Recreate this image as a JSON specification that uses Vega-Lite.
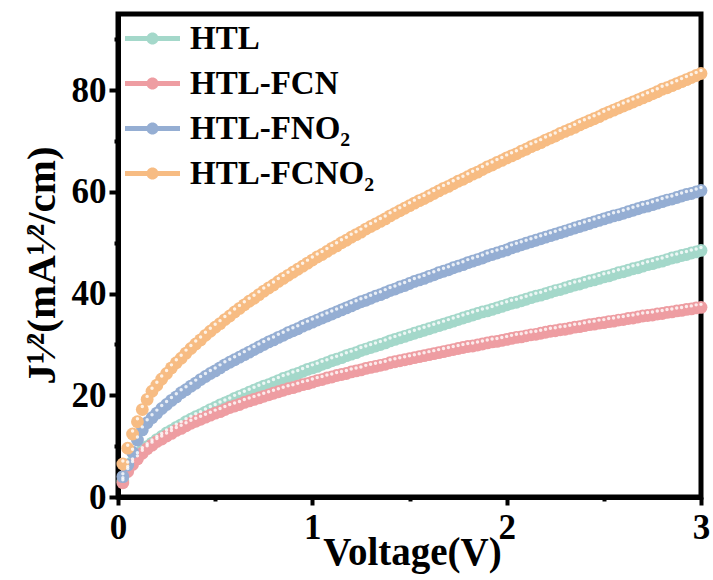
{
"$schema": "https://vega.github.io/schema/vega-lite/v6.json",
"width": 583, "height": 483,
"autosize": "none",
"padding": {"left": 118, "top": 14, "right": 12, "bottom": 83},
"background": "white",
"config": {"view": {"stroke": "black", "strokeWidth": 5}, "font": "Liberation Serif"},
"data": {"values": [
{"s":"HTL","v":0.025,"j":3.2},{"s":"HTL","v":0.05,"j":5.4},{"s":"HTL","v":0.075,"j":6.9},{"s":"HTL","v":0.1,"j":8.1},{"s":"HTL","v":0.125,"j":9.1},{"s":"HTL","v":0.15,"j":9.9},{"s":"HTL","v":0.175,"j":10.6},{"s":"HTL","v":0.2,"j":11.3},{"s":"HTL","v":0.225,"j":11.9},{"s":"HTL","v":0.25,"j":12.6},
{"s":"HTL","v":0.275,"j":13.1},{"s":"HTL","v":0.3,"j":13.7},{"s":"HTL","v":0.325,"j":14.2},{"s":"HTL","v":0.35,"j":14.8},{"s":"HTL","v":0.375,"j":15.3},{"s":"HTL","v":0.4,"j":15.8},{"s":"HTL","v":0.425,"j":16.2},{"s":"HTL","v":0.45,"j":16.7},{"s":"HTL","v":0.475,"j":17.2},{"s":"HTL","v":0.5,"j":17.6},
{"s":"HTL","v":0.525,"j":18.1},{"s":"HTL","v":0.55,"j":18.5},{"s":"HTL","v":0.575,"j":18.9},{"s":"HTL","v":0.6,"j":19.4},{"s":"HTL","v":0.625,"j":19.8},{"s":"HTL","v":0.65,"j":20.2},{"s":"HTL","v":0.675,"j":20.6},{"s":"HTL","v":0.7,"j":21.0},{"s":"HTL","v":0.725,"j":21.4},{"s":"HTL","v":0.75,"j":21.8},
{"s":"HTL","v":0.775,"j":22.1},{"s":"HTL","v":0.8,"j":22.5},{"s":"HTL","v":0.825,"j":22.9},{"s":"HTL","v":0.85,"j":23.3},{"s":"HTL","v":0.875,"j":23.6},{"s":"HTL","v":0.9,"j":24.0},{"s":"HTL","v":0.925,"j":24.3},{"s":"HTL","v":0.95,"j":24.7},{"s":"HTL","v":0.975,"j":25.1},{"s":"HTL","v":1.0,"j":25.4},
{"s":"HTL","v":1.025,"j":25.7},{"s":"HTL","v":1.05,"j":26.1},{"s":"HTL","v":1.075,"j":26.4},{"s":"HTL","v":1.1,"j":26.8},{"s":"HTL","v":1.125,"j":27.1},{"s":"HTL","v":1.15,"j":27.4},{"s":"HTL","v":1.175,"j":27.8},{"s":"HTL","v":1.2,"j":28.1},{"s":"HTL","v":1.225,"j":28.4},{"s":"HTL","v":1.25,"j":28.8},
{"s":"HTL","v":1.275,"j":29.1},{"s":"HTL","v":1.3,"j":29.4},{"s":"HTL","v":1.325,"j":29.7},{"s":"HTL","v":1.35,"j":30.0},{"s":"HTL","v":1.375,"j":30.3},{"s":"HTL","v":1.4,"j":30.7},{"s":"HTL","v":1.425,"j":31.0},{"s":"HTL","v":1.45,"j":31.3},{"s":"HTL","v":1.475,"j":31.6},{"s":"HTL","v":1.5,"j":31.9},
{"s":"HTL","v":1.525,"j":32.2},{"s":"HTL","v":1.55,"j":32.5},{"s":"HTL","v":1.575,"j":32.8},{"s":"HTL","v":1.6,"j":33.1},{"s":"HTL","v":1.625,"j":33.4},{"s":"HTL","v":1.65,"j":33.7},{"s":"HTL","v":1.675,"j":34.0},{"s":"HTL","v":1.7,"j":34.3},{"s":"HTL","v":1.725,"j":34.6},{"s":"HTL","v":1.75,"j":34.9},
{"s":"HTL","v":1.775,"j":35.2},{"s":"HTL","v":1.8,"j":35.5},{"s":"HTL","v":1.825,"j":35.8},{"s":"HTL","v":1.85,"j":36.1},{"s":"HTL","v":1.875,"j":36.4},{"s":"HTL","v":1.9,"j":36.6},{"s":"HTL","v":1.925,"j":36.9},{"s":"HTL","v":1.95,"j":37.2},{"s":"HTL","v":1.975,"j":37.5},{"s":"HTL","v":2.0,"j":37.8},
{"s":"HTL","v":2.025,"j":38.1},{"s":"HTL","v":2.05,"j":38.3},{"s":"HTL","v":2.075,"j":38.6},{"s":"HTL","v":2.1,"j":38.9},{"s":"HTL","v":2.125,"j":39.2},{"s":"HTL","v":2.15,"j":39.5},{"s":"HTL","v":2.175,"j":39.7},{"s":"HTL","v":2.2,"j":40.0},{"s":"HTL","v":2.225,"j":40.3},{"s":"HTL","v":2.25,"j":40.6},
{"s":"HTL","v":2.275,"j":40.8},{"s":"HTL","v":2.3,"j":41.1},{"s":"HTL","v":2.325,"j":41.4},{"s":"HTL","v":2.35,"j":41.7},{"s":"HTL","v":2.375,"j":41.9},{"s":"HTL","v":2.4,"j":42.2},{"s":"HTL","v":2.425,"j":42.5},{"s":"HTL","v":2.45,"j":42.7},{"s":"HTL","v":2.475,"j":43.0},{"s":"HTL","v":2.5,"j":43.3},
{"s":"HTL","v":2.525,"j":43.5},{"s":"HTL","v":2.55,"j":43.8},{"s":"HTL","v":2.575,"j":44.1},{"s":"HTL","v":2.6,"j":44.3},{"s":"HTL","v":2.625,"j":44.6},{"s":"HTL","v":2.65,"j":44.9},{"s":"HTL","v":2.675,"j":45.1},{"s":"HTL","v":2.7,"j":45.4},{"s":"HTL","v":2.725,"j":45.7},{"s":"HTL","v":2.75,"j":45.9},
{"s":"HTL","v":2.775,"j":46.2},{"s":"HTL","v":2.8,"j":46.4},{"s":"HTL","v":2.825,"j":46.7},{"s":"HTL","v":2.85,"j":47.0},{"s":"HTL","v":2.875,"j":47.2},{"s":"HTL","v":2.9,"j":47.5},{"s":"HTL","v":2.925,"j":47.7},{"s":"HTL","v":2.95,"j":48.0},{"s":"HTL","v":2.975,"j":48.2},{"s":"HTL","v":3.0,"j":48.5},
{"s":"HTL-FCN","v":0.025,"j":2.8},{"s":"HTL-FCN","v":0.05,"j":5.0},{"s":"HTL-FCN","v":0.075,"j":6.4},{"s":"HTL-FCN","v":0.1,"j":7.5},{"s":"HTL-FCN","v":0.125,"j":8.6},{"s":"HTL-FCN","v":0.15,"j":9.5},{"s":"HTL-FCN","v":0.175,"j":10.2},{"s":"HTL-FCN","v":0.2,"j":10.9},{"s":"HTL-FCN","v":0.225,"j":11.4},{"s":"HTL-FCN","v":0.25,"j":12.0},
{"s":"HTL-FCN","v":0.275,"j":12.5},{"s":"HTL-FCN","v":0.3,"j":13.1},{"s":"HTL-FCN","v":0.325,"j":13.5},{"s":"HTL-FCN","v":0.35,"j":14.0},{"s":"HTL-FCN","v":0.375,"j":14.5},{"s":"HTL-FCN","v":0.4,"j":14.9},{"s":"HTL-FCN","v":0.425,"j":15.3},{"s":"HTL-FCN","v":0.45,"j":15.7},{"s":"HTL-FCN","v":0.475,"j":16.1},{"s":"HTL-FCN","v":0.5,"j":16.5},
{"s":"HTL-FCN","v":0.525,"j":16.8},{"s":"HTL-FCN","v":0.55,"j":17.2},{"s":"HTL-FCN","v":0.575,"j":17.6},{"s":"HTL-FCN","v":0.6,"j":17.9},{"s":"HTL-FCN","v":0.625,"j":18.2},{"s":"HTL-FCN","v":0.65,"j":18.6},{"s":"HTL-FCN","v":0.675,"j":18.9},{"s":"HTL-FCN","v":0.7,"j":19.2},{"s":"HTL-FCN","v":0.725,"j":19.5},{"s":"HTL-FCN","v":0.75,"j":19.8},
{"s":"HTL-FCN","v":0.775,"j":20.1},{"s":"HTL-FCN","v":0.8,"j":20.4},{"s":"HTL-FCN","v":0.825,"j":20.7},{"s":"HTL-FCN","v":0.85,"j":21.0},{"s":"HTL-FCN","v":0.875,"j":21.3},{"s":"HTL-FCN","v":0.9,"j":21.5},{"s":"HTL-FCN","v":0.925,"j":21.8},{"s":"HTL-FCN","v":0.95,"j":22.1},{"s":"HTL-FCN","v":0.975,"j":22.3},{"s":"HTL-FCN","v":1.0,"j":22.6},
{"s":"HTL-FCN","v":1.025,"j":22.9},{"s":"HTL-FCN","v":1.05,"j":23.1},{"s":"HTL-FCN","v":1.075,"j":23.4},{"s":"HTL-FCN","v":1.1,"j":23.6},{"s":"HTL-FCN","v":1.125,"j":23.9},{"s":"HTL-FCN","v":1.15,"j":24.1},{"s":"HTL-FCN","v":1.175,"j":24.3},{"s":"HTL-FCN","v":1.2,"j":24.6},{"s":"HTL-FCN","v":1.225,"j":24.8},{"s":"HTL-FCN","v":1.25,"j":25.0},
{"s":"HTL-FCN","v":1.275,"j":25.3},{"s":"HTL-FCN","v":1.3,"j":25.5},{"s":"HTL-FCN","v":1.325,"j":25.7},{"s":"HTL-FCN","v":1.35,"j":25.9},{"s":"HTL-FCN","v":1.375,"j":26.1},{"s":"HTL-FCN","v":1.4,"j":26.4},{"s":"HTL-FCN","v":1.425,"j":26.6},{"s":"HTL-FCN","v":1.45,"j":26.8},{"s":"HTL-FCN","v":1.475,"j":27.0},{"s":"HTL-FCN","v":1.5,"j":27.2},
{"s":"HTL-FCN","v":1.525,"j":27.4},{"s":"HTL-FCN","v":1.55,"j":27.6},{"s":"HTL-FCN","v":1.575,"j":27.8},{"s":"HTL-FCN","v":1.6,"j":28.0},{"s":"HTL-FCN","v":1.625,"j":28.2},{"s":"HTL-FCN","v":1.65,"j":28.4},{"s":"HTL-FCN","v":1.675,"j":28.6},{"s":"HTL-FCN","v":1.7,"j":28.8},{"s":"HTL-FCN","v":1.725,"j":29.0},{"s":"HTL-FCN","v":1.75,"j":29.2},
{"s":"HTL-FCN","v":1.775,"j":29.4},{"s":"HTL-FCN","v":1.8,"j":29.6},{"s":"HTL-FCN","v":1.825,"j":29.7},{"s":"HTL-FCN","v":1.85,"j":29.9},{"s":"HTL-FCN","v":1.875,"j":30.1},{"s":"HTL-FCN","v":1.9,"j":30.3},{"s":"HTL-FCN","v":1.925,"j":30.5},{"s":"HTL-FCN","v":1.95,"j":30.6},{"s":"HTL-FCN","v":1.975,"j":30.8},{"s":"HTL-FCN","v":2.0,"j":31.0},
{"s":"HTL-FCN","v":2.025,"j":31.2},{"s":"HTL-FCN","v":2.05,"j":31.4},{"s":"HTL-FCN","v":2.075,"j":31.5},{"s":"HTL-FCN","v":2.1,"j":31.7},{"s":"HTL-FCN","v":2.125,"j":31.9},{"s":"HTL-FCN","v":2.15,"j":32.0},{"s":"HTL-FCN","v":2.175,"j":32.2},{"s":"HTL-FCN","v":2.2,"j":32.4},{"s":"HTL-FCN","v":2.225,"j":32.6},{"s":"HTL-FCN","v":2.25,"j":32.7},
{"s":"HTL-FCN","v":2.275,"j":32.9},{"s":"HTL-FCN","v":2.3,"j":33.0},{"s":"HTL-FCN","v":2.325,"j":33.2},{"s":"HTL-FCN","v":2.35,"j":33.4},{"s":"HTL-FCN","v":2.375,"j":33.5},{"s":"HTL-FCN","v":2.4,"j":33.7},{"s":"HTL-FCN","v":2.425,"j":33.9},{"s":"HTL-FCN","v":2.45,"j":34.0},{"s":"HTL-FCN","v":2.475,"j":34.2},{"s":"HTL-FCN","v":2.5,"j":34.3},
{"s":"HTL-FCN","v":2.525,"j":34.5},{"s":"HTL-FCN","v":2.55,"j":34.6},{"s":"HTL-FCN","v":2.575,"j":34.8},{"s":"HTL-FCN","v":2.6,"j":34.9},{"s":"HTL-FCN","v":2.625,"j":35.1},{"s":"HTL-FCN","v":2.65,"j":35.2},{"s":"HTL-FCN","v":2.675,"j":35.4},{"s":"HTL-FCN","v":2.7,"j":35.6},{"s":"HTL-FCN","v":2.725,"j":35.7},{"s":"HTL-FCN","v":2.75,"j":35.8},
{"s":"HTL-FCN","v":2.775,"j":36.0},{"s":"HTL-FCN","v":2.8,"j":36.1},{"s":"HTL-FCN","v":2.825,"j":36.3},{"s":"HTL-FCN","v":2.85,"j":36.4},{"s":"HTL-FCN","v":2.875,"j":36.6},{"s":"HTL-FCN","v":2.9,"j":36.7},{"s":"HTL-FCN","v":2.925,"j":36.9},{"s":"HTL-FCN","v":2.95,"j":37.0},{"s":"HTL-FCN","v":2.975,"j":37.2},{"s":"HTL-FCN","v":3.0,"j":37.3},
{"s":"HTL-FNO₂","v":0.025,"j":4.0},{"s":"HTL-FNO₂","v":0.05,"j":6.3},{"s":"HTL-FNO₂","v":0.075,"j":8.8},{"s":"HTL-FNO₂","v":0.1,"j":11.2},{"s":"HTL-FNO₂","v":0.125,"j":13.2},{"s":"HTL-FNO₂","v":0.15,"j":14.6},{"s":"HTL-FNO₂","v":0.175,"j":15.6},{"s":"HTL-FNO₂","v":0.2,"j":16.5},{"s":"HTL-FNO₂","v":0.225,"j":17.4},{"s":"HTL-FNO₂","v":0.25,"j":18.2},
{"s":"HTL-FNO₂","v":0.275,"j":19.0},{"s":"HTL-FNO₂","v":0.3,"j":19.7},{"s":"HTL-FNO₂","v":0.325,"j":20.5},{"s":"HTL-FNO₂","v":0.35,"j":21.1},{"s":"HTL-FNO₂","v":0.375,"j":21.8},{"s":"HTL-FNO₂","v":0.4,"j":22.4},{"s":"HTL-FNO₂","v":0.425,"j":23.1},{"s":"HTL-FNO₂","v":0.45,"j":23.7},{"s":"HTL-FNO₂","v":0.475,"j":24.3},{"s":"HTL-FNO₂","v":0.5,"j":24.8},
{"s":"HTL-FNO₂","v":0.525,"j":25.4},{"s":"HTL-FNO₂","v":0.55,"j":26.0},{"s":"HTL-FNO₂","v":0.575,"j":26.5},{"s":"HTL-FNO₂","v":0.6,"j":27.0},{"s":"HTL-FNO₂","v":0.625,"j":27.5},{"s":"HTL-FNO₂","v":0.65,"j":28.0},{"s":"HTL-FNO₂","v":0.675,"j":28.5},{"s":"HTL-FNO₂","v":0.7,"j":29.0},{"s":"HTL-FNO₂","v":0.725,"j":29.5},{"s":"HTL-FNO₂","v":0.75,"j":30.0},
{"s":"HTL-FNO₂","v":0.775,"j":30.5},{"s":"HTL-FNO₂","v":0.8,"j":30.9},{"s":"HTL-FNO₂","v":0.825,"j":31.4},{"s":"HTL-FNO₂","v":0.85,"j":31.8},{"s":"HTL-FNO₂","v":0.875,"j":32.3},{"s":"HTL-FNO₂","v":0.9,"j":32.7},{"s":"HTL-FNO₂","v":0.925,"j":33.1},{"s":"HTL-FNO₂","v":0.95,"j":33.6},{"s":"HTL-FNO₂","v":0.975,"j":34.0},{"s":"HTL-FNO₂","v":1.0,"j":34.4},
{"s":"HTL-FNO₂","v":1.025,"j":34.8},{"s":"HTL-FNO₂","v":1.05,"j":35.2},{"s":"HTL-FNO₂","v":1.075,"j":35.6},{"s":"HTL-FNO₂","v":1.1,"j":36.0},{"s":"HTL-FNO₂","v":1.125,"j":36.4},{"s":"HTL-FNO₂","v":1.15,"j":36.8},{"s":"HTL-FNO₂","v":1.175,"j":37.2},{"s":"HTL-FNO₂","v":1.2,"j":37.6},{"s":"HTL-FNO₂","v":1.225,"j":38.0},{"s":"HTL-FNO₂","v":1.25,"j":38.4},
{"s":"HTL-FNO₂","v":1.275,"j":38.7},{"s":"HTL-FNO₂","v":1.3,"j":39.1},{"s":"HTL-FNO₂","v":1.325,"j":39.5},{"s":"HTL-FNO₂","v":1.35,"j":39.8},{"s":"HTL-FNO₂","v":1.375,"j":40.2},{"s":"HTL-FNO₂","v":1.4,"j":40.6},{"s":"HTL-FNO₂","v":1.425,"j":40.9},{"s":"HTL-FNO₂","v":1.45,"j":41.3},{"s":"HTL-FNO₂","v":1.475,"j":41.6},{"s":"HTL-FNO₂","v":1.5,"j":42.0},
{"s":"HTL-FNO₂","v":1.525,"j":42.4},{"s":"HTL-FNO₂","v":1.55,"j":42.7},{"s":"HTL-FNO₂","v":1.575,"j":43.0},{"s":"HTL-FNO₂","v":1.6,"j":43.4},{"s":"HTL-FNO₂","v":1.625,"j":43.7},{"s":"HTL-FNO₂","v":1.65,"j":44.1},{"s":"HTL-FNO₂","v":1.675,"j":44.4},{"s":"HTL-FNO₂","v":1.7,"j":44.7},{"s":"HTL-FNO₂","v":1.725,"j":45.1},{"s":"HTL-FNO₂","v":1.75,"j":45.4},
{"s":"HTL-FNO₂","v":1.775,"j":45.7},{"s":"HTL-FNO₂","v":1.8,"j":46.1},{"s":"HTL-FNO₂","v":1.825,"j":46.4},{"s":"HTL-FNO₂","v":1.85,"j":46.7},{"s":"HTL-FNO₂","v":1.875,"j":47.0},{"s":"HTL-FNO₂","v":1.9,"j":47.4},{"s":"HTL-FNO₂","v":1.925,"j":47.7},{"s":"HTL-FNO₂","v":1.95,"j":48.0},{"s":"HTL-FNO₂","v":1.975,"j":48.3},{"s":"HTL-FNO₂","v":2.0,"j":48.6},
{"s":"HTL-FNO₂","v":2.025,"j":49.0},{"s":"HTL-FNO₂","v":2.05,"j":49.3},{"s":"HTL-FNO₂","v":2.075,"j":49.6},{"s":"HTL-FNO₂","v":2.1,"j":49.9},{"s":"HTL-FNO₂","v":2.125,"j":50.2},{"s":"HTL-FNO₂","v":2.15,"j":50.5},{"s":"HTL-FNO₂","v":2.175,"j":50.8},{"s":"HTL-FNO₂","v":2.2,"j":51.1},{"s":"HTL-FNO₂","v":2.225,"j":51.4},{"s":"HTL-FNO₂","v":2.25,"j":51.7},
{"s":"HTL-FNO₂","v":2.275,"j":52.0},{"s":"HTL-FNO₂","v":2.3,"j":52.3},{"s":"HTL-FNO₂","v":2.325,"j":52.6},{"s":"HTL-FNO₂","v":2.35,"j":52.9},{"s":"HTL-FNO₂","v":2.375,"j":53.2},{"s":"HTL-FNO₂","v":2.4,"j":53.5},{"s":"HTL-FNO₂","v":2.425,"j":53.8},{"s":"HTL-FNO₂","v":2.45,"j":54.1},{"s":"HTL-FNO₂","v":2.475,"j":54.4},{"s":"HTL-FNO₂","v":2.5,"j":54.7},
{"s":"HTL-FNO₂","v":2.525,"j":55.0},{"s":"HTL-FNO₂","v":2.55,"j":55.3},{"s":"HTL-FNO₂","v":2.575,"j":55.5},{"s":"HTL-FNO₂","v":2.6,"j":55.8},{"s":"HTL-FNO₂","v":2.625,"j":56.1},{"s":"HTL-FNO₂","v":2.65,"j":56.4},{"s":"HTL-FNO₂","v":2.675,"j":56.7},{"s":"HTL-FNO₂","v":2.7,"j":57.0},{"s":"HTL-FNO₂","v":2.725,"j":57.2},{"s":"HTL-FNO₂","v":2.75,"j":57.5},
{"s":"HTL-FNO₂","v":2.775,"j":57.8},{"s":"HTL-FNO₂","v":2.8,"j":58.1},{"s":"HTL-FNO₂","v":2.825,"j":58.4},{"s":"HTL-FNO₂","v":2.85,"j":58.6},{"s":"HTL-FNO₂","v":2.875,"j":58.9},{"s":"HTL-FNO₂","v":2.9,"j":59.2},{"s":"HTL-FNO₂","v":2.925,"j":59.5},{"s":"HTL-FNO₂","v":2.95,"j":59.7},{"s":"HTL-FNO₂","v":2.975,"j":60.0},{"s":"HTL-FNO₂","v":3.0,"j":60.3},
{"s":"HTL-FCNO₂","v":0.025,"j":6.5},{"s":"HTL-FCNO₂","v":0.05,"j":9.6},{"s":"HTL-FCNO₂","v":0.075,"j":12.4},{"s":"HTL-FCNO₂","v":0.1,"j":14.8},{"s":"HTL-FCNO₂","v":0.125,"j":17.2},{"s":"HTL-FCNO₂","v":0.15,"j":19.2},{"s":"HTL-FCNO₂","v":0.175,"j":20.8},{"s":"HTL-FCNO₂","v":0.2,"j":22.0},{"s":"HTL-FCNO₂","v":0.225,"j":23.2},{"s":"HTL-FCNO₂","v":0.25,"j":24.3},
{"s":"HTL-FCNO₂","v":0.275,"j":25.4},{"s":"HTL-FCNO₂","v":0.3,"j":26.4},{"s":"HTL-FCNO₂","v":0.325,"j":27.3},{"s":"HTL-FCNO₂","v":0.35,"j":28.3},{"s":"HTL-FCNO₂","v":0.375,"j":29.2},{"s":"HTL-FCNO₂","v":0.4,"j":30.1},{"s":"HTL-FCNO₂","v":0.425,"j":30.9},{"s":"HTL-FCNO₂","v":0.45,"j":31.8},{"s":"HTL-FCNO₂","v":0.475,"j":32.6},{"s":"HTL-FCNO₂","v":0.5,"j":33.4},
{"s":"HTL-FCNO₂","v":0.525,"j":34.1},{"s":"HTL-FCNO₂","v":0.55,"j":34.9},{"s":"HTL-FCNO₂","v":0.575,"j":35.6},{"s":"HTL-FCNO₂","v":0.6,"j":36.4},{"s":"HTL-FCNO₂","v":0.625,"j":37.1},{"s":"HTL-FCNO₂","v":0.65,"j":37.8},{"s":"HTL-FCNO₂","v":0.675,"j":38.5},{"s":"HTL-FCNO₂","v":0.7,"j":39.1},{"s":"HTL-FCNO₂","v":0.725,"j":39.8},{"s":"HTL-FCNO₂","v":0.75,"j":40.5},
{"s":"HTL-FCNO₂","v":0.775,"j":41.1},{"s":"HTL-FCNO₂","v":0.8,"j":41.7},{"s":"HTL-FCNO₂","v":0.825,"j":42.4},{"s":"HTL-FCNO₂","v":0.85,"j":43.0},{"s":"HTL-FCNO₂","v":0.875,"j":43.6},{"s":"HTL-FCNO₂","v":0.9,"j":44.2},{"s":"HTL-FCNO₂","v":0.925,"j":44.8},{"s":"HTL-FCNO₂","v":0.95,"j":45.4},{"s":"HTL-FCNO₂","v":0.975,"j":46.0},{"s":"HTL-FCNO₂","v":1.0,"j":46.6},
{"s":"HTL-FCNO₂","v":1.025,"j":47.2},{"s":"HTL-FCNO₂","v":1.05,"j":47.7},{"s":"HTL-FCNO₂","v":1.075,"j":48.3},{"s":"HTL-FCNO₂","v":1.1,"j":48.9},{"s":"HTL-FCNO₂","v":1.125,"j":49.4},{"s":"HTL-FCNO₂","v":1.15,"j":50.0},{"s":"HTL-FCNO₂","v":1.175,"j":50.5},{"s":"HTL-FCNO₂","v":1.2,"j":51.1},{"s":"HTL-FCNO₂","v":1.225,"j":51.6},{"s":"HTL-FCNO₂","v":1.25,"j":52.1},
{"s":"HTL-FCNO₂","v":1.275,"j":52.7},{"s":"HTL-FCNO₂","v":1.3,"j":53.2},{"s":"HTL-FCNO₂","v":1.325,"j":53.7},{"s":"HTL-FCNO₂","v":1.35,"j":54.2},{"s":"HTL-FCNO₂","v":1.375,"j":54.7},{"s":"HTL-FCNO₂","v":1.4,"j":55.3},{"s":"HTL-FCNO₂","v":1.425,"j":55.8},{"s":"HTL-FCNO₂","v":1.45,"j":56.3},{"s":"HTL-FCNO₂","v":1.475,"j":56.8},{"s":"HTL-FCNO₂","v":1.5,"j":57.3},
{"s":"HTL-FCNO₂","v":1.525,"j":57.8},{"s":"HTL-FCNO₂","v":1.55,"j":58.3},{"s":"HTL-FCNO₂","v":1.575,"j":58.7},{"s":"HTL-FCNO₂","v":1.6,"j":59.2},{"s":"HTL-FCNO₂","v":1.625,"j":59.7},{"s":"HTL-FCNO₂","v":1.65,"j":60.2},{"s":"HTL-FCNO₂","v":1.675,"j":60.7},{"s":"HTL-FCNO₂","v":1.7,"j":61.1},{"s":"HTL-FCNO₂","v":1.725,"j":61.6},{"s":"HTL-FCNO₂","v":1.75,"j":62.1},
{"s":"HTL-FCNO₂","v":1.775,"j":62.5},{"s":"HTL-FCNO₂","v":1.8,"j":63.0},{"s":"HTL-FCNO₂","v":1.825,"j":63.5},{"s":"HTL-FCNO₂","v":1.85,"j":63.9},{"s":"HTL-FCNO₂","v":1.875,"j":64.4},{"s":"HTL-FCNO₂","v":1.9,"j":64.9},{"s":"HTL-FCNO₂","v":1.925,"j":65.3},{"s":"HTL-FCNO₂","v":1.95,"j":65.8},{"s":"HTL-FCNO₂","v":1.975,"j":66.2},{"s":"HTL-FCNO₂","v":2.0,"j":66.7},
{"s":"HTL-FCNO₂","v":2.025,"j":67.1},{"s":"HTL-FCNO₂","v":2.05,"j":67.5},{"s":"HTL-FCNO₂","v":2.075,"j":68.0},{"s":"HTL-FCNO₂","v":2.1,"j":68.4},{"s":"HTL-FCNO₂","v":2.125,"j":68.9},{"s":"HTL-FCNO₂","v":2.15,"j":69.3},{"s":"HTL-FCNO₂","v":2.175,"j":69.7},{"s":"HTL-FCNO₂","v":2.2,"j":70.2},{"s":"HTL-FCNO₂","v":2.225,"j":70.6},{"s":"HTL-FCNO₂","v":2.25,"j":71.0},
{"s":"HTL-FCNO₂","v":2.275,"j":71.5},{"s":"HTL-FCNO₂","v":2.3,"j":71.9},{"s":"HTL-FCNO₂","v":2.325,"j":72.3},{"s":"HTL-FCNO₂","v":2.35,"j":72.7},{"s":"HTL-FCNO₂","v":2.375,"j":73.2},{"s":"HTL-FCNO₂","v":2.4,"j":73.6},{"s":"HTL-FCNO₂","v":2.425,"j":74.0},{"s":"HTL-FCNO₂","v":2.45,"j":74.4},{"s":"HTL-FCNO₂","v":2.475,"j":74.8},{"s":"HTL-FCNO₂","v":2.5,"j":75.3},
{"s":"HTL-FCNO₂","v":2.525,"j":75.7},{"s":"HTL-FCNO₂","v":2.55,"j":76.1},{"s":"HTL-FCNO₂","v":2.575,"j":76.5},{"s":"HTL-FCNO₂","v":2.6,"j":76.9},{"s":"HTL-FCNO₂","v":2.625,"j":77.3},{"s":"HTL-FCNO₂","v":2.65,"j":77.7},{"s":"HTL-FCNO₂","v":2.675,"j":78.1},{"s":"HTL-FCNO₂","v":2.7,"j":78.5},{"s":"HTL-FCNO₂","v":2.725,"j":78.9},{"s":"HTL-FCNO₂","v":2.75,"j":79.3},
{"s":"HTL-FCNO₂","v":2.775,"j":79.7},{"s":"HTL-FCNO₂","v":2.8,"j":80.2},{"s":"HTL-FCNO₂","v":2.825,"j":80.5},{"s":"HTL-FCNO₂","v":2.85,"j":80.9},{"s":"HTL-FCNO₂","v":2.875,"j":81.3},{"s":"HTL-FCNO₂","v":2.9,"j":81.7},{"s":"HTL-FCNO₂","v":2.925,"j":82.1},{"s":"HTL-FCNO₂","v":2.95,"j":82.5},{"s":"HTL-FCNO₂","v":2.975,"j":82.9},{"s":"HTL-FCNO₂","v":3.0,"j":83.3}
]},
"encoding": {
  "x": {"field": "v", "type": "quantitative", "scale": {"domain": [0, 3], "nice": false, "zero": false},
    "axis": {"values": [0, 0.5, 1, 1.5, 2, 2.5, 3], "labelExpr": "datum.value % 1 == 0 ? format(datum.value, 'd') : ''",
      "title": "Voltage(V)", "grid": false, "domainColor": "black", "domainWidth": 5, "tickColor": "black", "tickWidth": 4,
      "tickSize": {"condition": {"test": "datum.value % 1 != 0", "value": 4}, "value": 8},
      "labelFont": "Liberation Serif", "labelFontWeight": "bold", "labelFontSize": 35, "labelColor": "black", "labelPadding": 5,
      "labelFlush": false, "labelOverlap": false, "labelBound": false,
      "titleFont": "Liberation Serif", "titleFontWeight": "bold", "titleFontSize": 39, "titleColor": "black",
      "titleBaseline": "alphabetic", "titleAlign": "center", "titleX": 294, "titleY": 67}},
  "y": {"field": "j", "type": "quantitative", "scale": {"domain": [0, 95], "nice": false},
    "axis": {"values": [0, 10, 20, 30, 40, 50, 60, 70, 80, 90], "labelExpr": "datum.value % 20 == 0 ? format(datum.value, 'd') : ''",
      "title": "J¹⁄²(mA¹⁄²/cm)", "grid": false, "domainColor": "black", "domainWidth": 5, "tickColor": "black", "tickWidth": 4,
      "tickSize": {"condition": {"test": "datum.value % 20 != 0", "value": 4}, "value": 9},
      "labelFont": "Liberation Serif", "labelFontWeight": "bold", "labelFontSize": 35, "labelColor": "black", "labelPadding": 3,
      "labelFlush": false, "labelOverlap": false, "labelBound": false,
      "titleFont": "Liberation Serif", "titleFontWeight": "bold", "titleFontSize": 41, "titleColor": "black",
      "titleAngle": -90, "titleBaseline": "alphabetic", "titleAlign": "center", "titleX": -64, "titleY": 251}}
},
"layer": [
  {"mark": {"type": "point", "filled": true, "size": 165, "opacity": 1},
   "encoding": {"color": {"field": "s", "type": "nominal",
     "scale": {"domain": ["HTL", "HTL-FCN", "HTL-FNO₂", "HTL-FCNO₂"], "range": ["#A4D8CA", "#EE9DA2", "#95AED3", "#F7BC83"]},
     "legend": {"title": null, "orient": "none", "legendX": 7, "legendY": -3, "padding": 0,
       "symbolType": "M-1,-0.09L1,-0.09L1,0.09L-1,0.09Z M0.22,0A0.22,0.22 0 1,1 -0.22,0A0.22,0.22 0 1,1 0.22,0Z",
       "symbolSize": 3025, "symbolStrokeWidth": 0, "symbolOpacity": 1,
       "labelFont": "Liberation Serif", "labelFontWeight": "bold", "labelFontSize": 33, "labelColor": "black",
       "labelOffset": 10, "rowPadding": -11, "labelLimit": 400}}}},
  {"mark": {"type": "point", "filled": true, "color": "white", "size": 12, "opacity": 0.8, "yOffset": -3}}
]
}
